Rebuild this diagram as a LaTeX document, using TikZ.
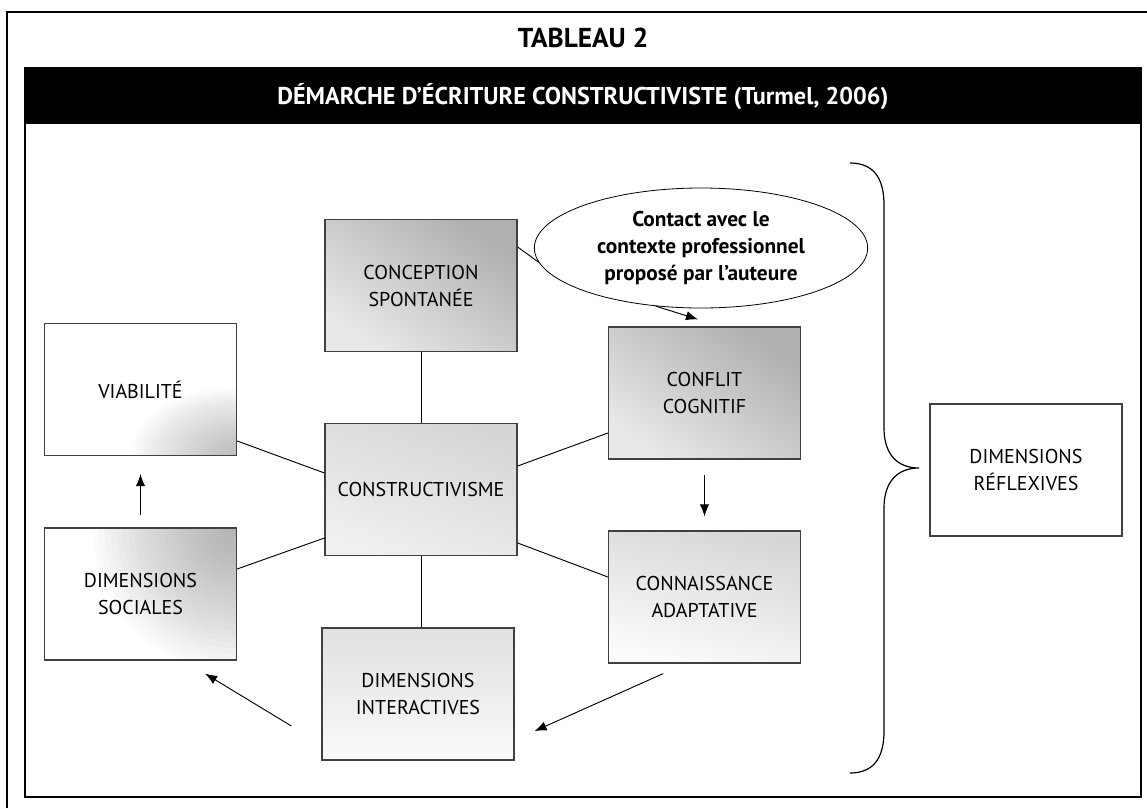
\documentclass[tikz,border=0pt]{standalone}
\usepackage{fontspec}
\setmainfont{PT Sans}
\usetikzlibrary{arrows.meta,shapes.geometric}

\begin{document}
\begin{tikzpicture}[x=0.75pt, y=-0.75pt, >={Latex[length=9pt,width=7pt]},
	every node/.style={font=\fontsize{15}{20.25}\selectfont, align=center},
	box/.style={draw=black!75, line width=0.9pt, minimum width=144pt, minimum height=99pt, inner sep=0pt},
	darkbox/.style={box, top color=gray!62, bottom color=gray!18, shading angle=-35},
	midbox/.style={box, top color=gray!32, bottom color=gray!12, shading angle=-20},
	lightbox/.style={box, top color=gray!32, bottom color=gray!3, shading angle=-15},
	cornerbr/.style={box, fill=white, path picture={\foreach \r in {5,10,...,105} \fill[gray, opacity=0.028] (path picture bounding box.south east) ellipse [x radius=\r, y radius=0.65*\r];}},
	cornertr/.style={box, fill=white, path picture={\foreach \r in {6,12,...,144} \fill[gray, opacity=0.03] (path picture bounding box.north east) circle (\r);}},
	link/.style={line width=0.7pt}]
	\useasboundingbox (0,0) rectangle (1147,808);
	% cadre
	\draw[line width=1pt] (7,808) -- (7,12) -- (1147,12);
	\draw[line width=1pt] (25,68) rectangle (1141,797);
	\fill[black] (25,68) rectangle (1141,124);
	\node[font=\bfseries\fontsize{20.5}{24}\selectfont] (tab) at (583,38) {TABLEAU 2};
	\node[font=\bfseries\fontsize{18.2}{24}\selectfont, text=white] (titre) at (583,97) {DÉMARCHE D’ÉCRITURE CONSTRUCTIVISTE (Turmel, 2006)};
	% boites
	\node[darkbox] (concep) at (421,285.5) {CONCEPTION\\SPONTANÉE};
	\node[midbox] (constr) at (421,489.5) {CONSTRUCTIVISME};
	\node[darkbox] (conflit) at (704.5,393) {CONFLIT\\COGNITIF};
	\node[lightbox] (connais) at (704.5,597) {CONNAISSANCE\\ADAPTATIVE};
	\node[midbox, top color=gray!24, bottom color=gray!4] (inter) at (418,694) {DIMENSIONS\\INTERACTIVES};
	\node[cornerbr] (viab) at (140.5,389.5) {VIABILITÉ};
	\node[cornertr] (social) at (140.5,594) {DIMENSIONS\\SOCIALES};
	\node[box] (reflex) at (1026,470) {DIMENSIONS\\RÉFLEXIVES};
	\node[ellipse, draw, line width=0.6pt, fill=white, minimum width=250pt, minimum height=90pt, inner sep=0pt,
		font=\bfseries\fontsize{16}{20.25}\selectfont] (bulle) at (701,248) {Contact avec le\\contexte professionnel\\proposé par l’auteure};
	% liens
	\draw[link] (concep.south) -- (constr.north);
	\draw[link] (constr.south) -- (constr.south |- inter.north);
	\draw[link] ([yshift=-38.6pt]viab.east) -- ([yshift=12.4pt]constr.west);
	\draw[link] ([yshift=18.75pt]social.east) -- ([yshift=-36.4pt]constr.west);
	\draw[link] ([yshift=17.6pt]constr.east) -- ([yshift=-30pt]conflit.west);
	\draw[link] ([yshift=-40.1pt]constr.east) -- ([yshift=15pt]connais.west);
	\draw[link] ([yshift=28.9pt]concep.east) -- (bulle.185);
	% fleches
	\draw[link, ->] (bulle.232) -- ([xshift=-4.9pt, yshift=5.3pt]conflit.north);
	\draw[link, ->, shorten <=11.2pt, shorten >=10.5pt] (conflit.south) -- (connais.south |- connais.north);
	\draw[link, ->, shorten <=9pt, shorten >=13.5pt] (social.north) -- (viab.south);
	\draw[link, ->] ([xshift=-31pt, yshift=-7.5pt]connais.south) -- ([xshift=15pt, yshift=-27.8pt]inter.east);
	\draw[link, ->] ([xshift=-22.5pt, yshift=-24pt]inter.west) -- ([xshift=-24pt, yshift=-9.8pt]social.south east);
	% accolade
	\draw[line width=0.9pt] (850,163) .. controls (875,163) and (884,180) .. (884,205) -- (884,428)
		.. controls (884,455) and (898,468) .. (919,468) .. controls (898,468) and (884,481) .. (884,508)
		-- (884,731) .. controls (884,756) and (875,773) .. (850,773);
\end{tikzpicture}
\end{document}
